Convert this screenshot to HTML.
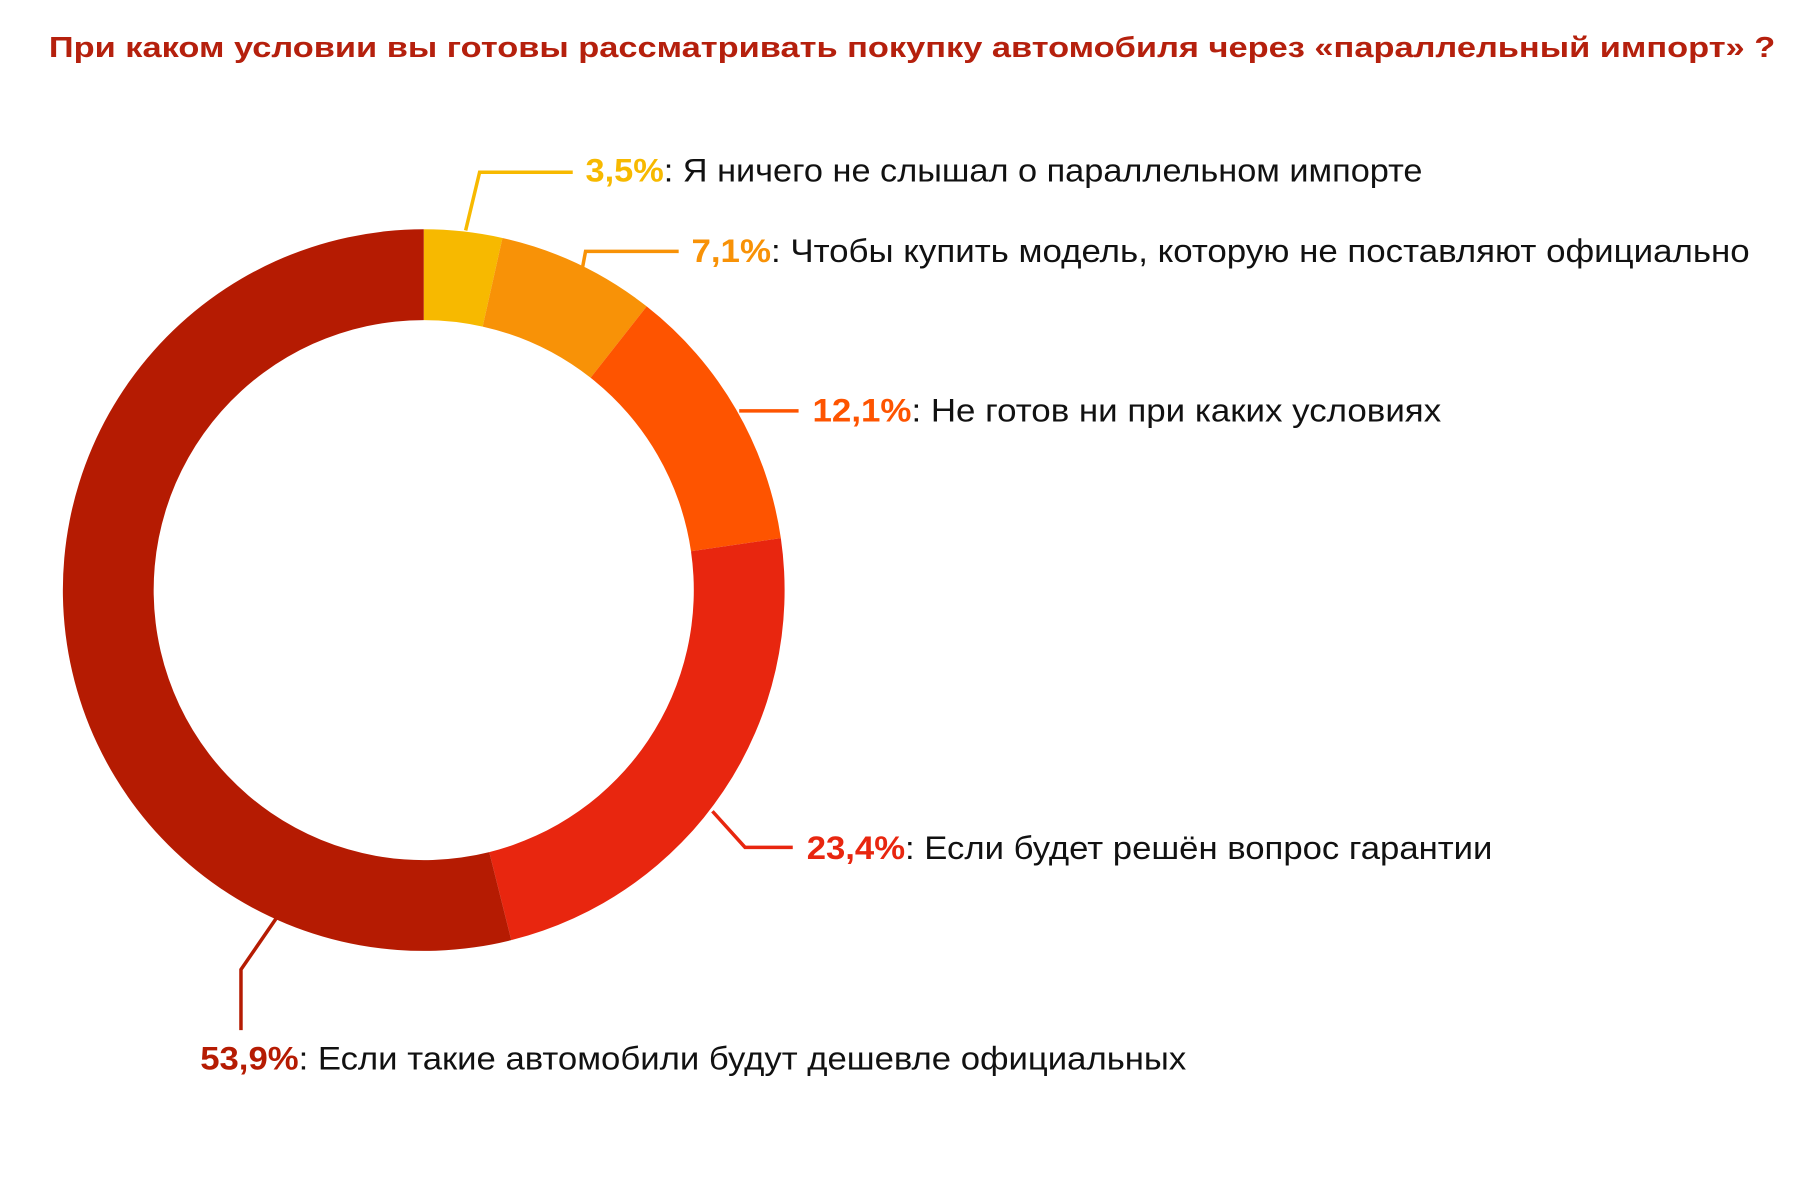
<!DOCTYPE html>
<html><head><meta charset="utf-8">
<style>html,body{margin:0;padding:0;background:#fff;}svg{display:block;}</style>
</head><body>
<svg id="chart" width="1816" height="1200" viewBox="0 0 1560 1031" preserveAspectRatio="none" xmlns="http://www.w3.org/2000/svg" style="font-family:'Liberation Sans','Noto Sans CJK SC',sans-serif">
<rect width="1560" height="1031" fill="#fff"/>
<text x="42" y="49" font-size="25" font-weight="bold" fill="#b5200d" textLength="1483" lengthAdjust="spacingAndGlyphs">При каком условии вы готовы рассматривать покупку автомобиля через «параллельный импорт» ?</text>
<g id="slices"></g>
<g id="labels"></g>
</svg>
<script>
const categories = ["Я ничего не слышал о параллельном импорте","Чтобы купить модель, которую не поставляют официально","Не готов ни при каких условиях","Если будет решён вопрос гарантии","Если такие автомобили будут дешевле официальных"];
const values = [3.5, 7.1, 12.1, 23.4, 53.9];
const valueLabels = ["3,5%","7,1%","12,1%","23,4%","53,9%"];
const colors = ["#f7b900","#f89207","#fe5400","#e8260f","#b51b02"];
// layout (not data): label anchor, text width, leader polylines
const layout = [
  {x:503,y:156,w:719,pts:[[400,198],[412,148],[492,148]]},
  {x:594,y:225,w:909,pts:[[500,232],[503,216],[583,216]]},
  {x:698,y:362,w:540,pts:[[635,353],[686,353]]},
  {x:693,y:738,w:589,pts:[[612,697],[640,728],[681,728]]},
  {x:172,y:919,w:847,pts:[[238,788],[207,833],[207,885]]}
];
const cx=364, cy=507, R=310, r=232;
const NS="http://www.w3.org/2000/svg";
const total = values.reduce((a,b)=>a+b,0);
function angle(v){return v/total*2*Math.PI - Math.PI/2;}
function pt(rad,a){return [cx+rad*Math.cos(a), cy+rad*Math.sin(a)];}
const gs=document.getElementById('slices'), gl=document.getElementById('labels');
let cum=0;
values.forEach((v,i)=>{
  const a0=angle(cum), a1=angle(cum+v); cum+=v;
  const large=(a1-a0)>Math.PI?1:0;
  const p0=pt(R,a0),p1=pt(R,a1),q1=pt(r,a1),q0=pt(r,a0);
  const p=document.createElementNS(NS,'path');
  p.setAttribute('d',`M${p0[0]},${p0[1]} A${R},${R} 0 ${large} 1 ${p1[0]},${p1[1]} L${q1[0]},${q1[1]} A${r},${r} 0 ${large} 0 ${q0[0]},${q0[1]} Z`);
  p.setAttribute('fill',colors[i]);
  
  
  gs.appendChild(p);
  const L=layout[i];
  const line=document.createElementNS(NS,'polyline');
  line.setAttribute('points',L.pts.map(q=>q.join(',')).join(' '));
  line.setAttribute('fill','none');
  line.setAttribute('stroke',colors[i]);
  line.setAttribute('stroke-width','3');
  
  
  gl.appendChild(line);
  const t=document.createElementNS(NS,'text');
  t.setAttribute('x',L.x); t.setAttribute('y',L.y);
  t.setAttribute('font-size','28');
  t.setAttribute('textLength',L.w);
  t.setAttribute('lengthAdjust','spacingAndGlyphs');
  
  
  const s1=document.createElementNS(NS,'tspan');
  s1.setAttribute('font-weight','bold'); s1.setAttribute('fill',colors[i]);
  s1.textContent=valueLabels[i];
  const s2=document.createElementNS(NS,'tspan');
  s2.setAttribute('fill','#111');
  s2.textContent=': '+categories[i];
  t.appendChild(s1); t.appendChild(s2);
  gl.appendChild(t);
});
</script>
</body></html>
